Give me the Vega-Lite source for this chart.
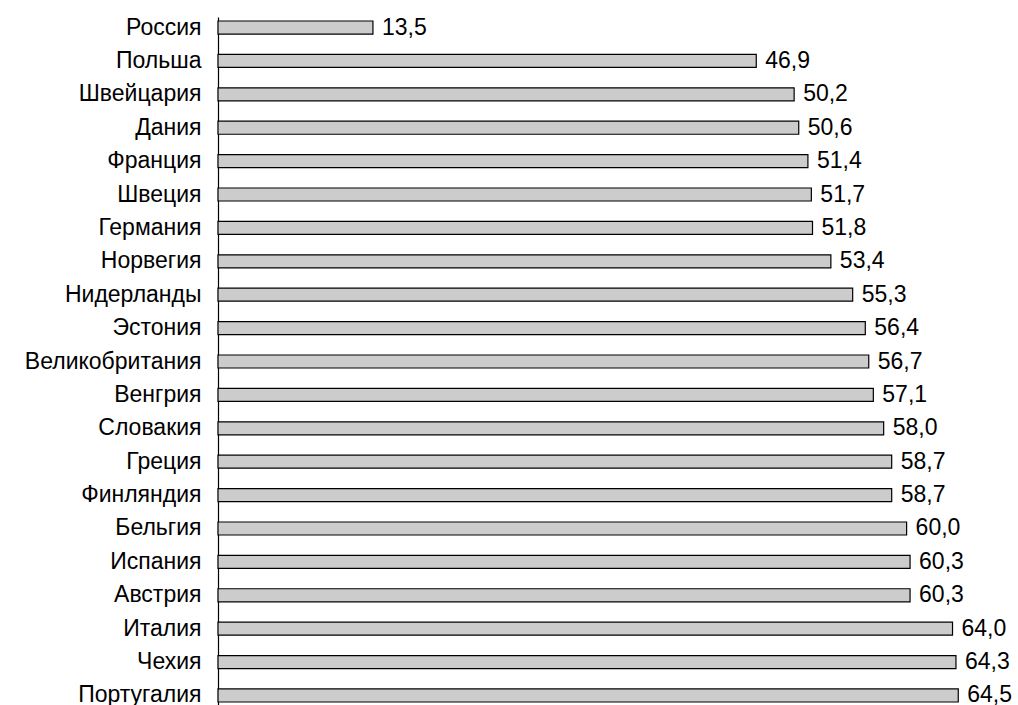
{
  "$schema": "https://vega.github.io/schema/vega-lite/v6.json",
  "autosize": "none",
  "padding": {"left": 218, "top": 17, "right": 54, "bottom": 0},
  "width": 746,
  "height": 689,
  "background": "white",
  "config": {
    "view": {"stroke": null},
    "locale": {"number": {"decimal": ",", "thousands": " ", "grouping": [3], "currency": ["", ""]}},
    "font": "Liberation Sans"
  },
  "data": {
    "values": [
      {"country": "Россия", "value": 13.5},
      {"country": "Польша", "value": 46.9},
      {"country": "Швейцария", "value": 50.2},
      {"country": "Дания", "value": 50.6},
      {"country": "Франция", "value": 51.4},
      {"country": "Швеция", "value": 51.7},
      {"country": "Германия", "value": 51.8},
      {"country": "Норвегия", "value": 53.4},
      {"country": "Нидерланды", "value": 55.3},
      {"country": "Эстония", "value": 56.4},
      {"country": "Великобритания", "value": 56.7},
      {"country": "Венгрия", "value": 57.1},
      {"country": "Словакия", "value": 58.0},
      {"country": "Греция", "value": 58.7},
      {"country": "Финляндия", "value": 58.7},
      {"country": "Бельгия", "value": 60.0},
      {"country": "Испания", "value": 60.3},
      {"country": "Австрия", "value": 60.3},
      {"country": "Италия", "value": 64.0},
      {"country": "Чехия", "value": 64.3},
      {"country": "Португалия", "value": 64.5}
    ]
  },
  "encoding": {
    "y": {
      "field": "country",
      "type": "nominal",
      "sort": null,
      "scale": {"paddingInner": 0.61, "paddingOuter": 0.12},
      "axis": {
        "title": null,
        "ticks": false,
        "domain": true,
        "domainColor": "black",
        "domainWidth": 1.2,
        "labelPadding": 17,
        "labelFontSize": 23,
        "labelFont": "Liberation Sans",
        "labelColor": "black",
        "labelLimit": 0
      }
    },
    "x": {
      "field": "value",
      "type": "quantitative",
      "scale": {"domain": [0, 65], "nice": false},
      "axis": null
    }
  },
  "layer": [
    {
      "mark": {"type": "bar", "fill": "#cccccc", "stroke": "black", "strokeWidth": 1.2}
    },
    {
      "mark": {"type": "text", "align": "left", "baseline": "middle", "dx": 9, "fontSize": 23, "font": "Liberation Sans", "color": "black"},
      "encoding": {"text": {"field": "value", "type": "quantitative", "format": ".1f"}}
    }
  ]
}
